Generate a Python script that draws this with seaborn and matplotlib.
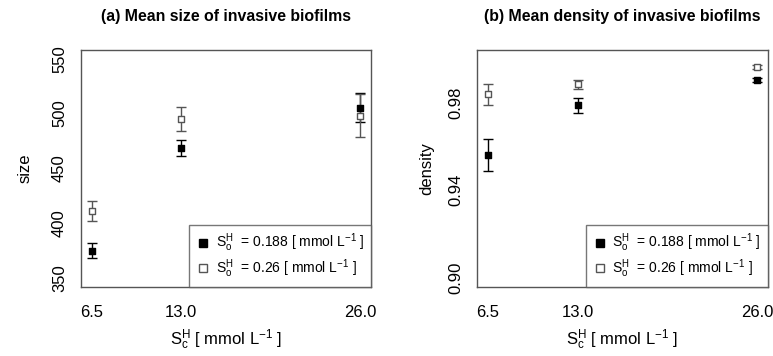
import pandas as pd
import seaborn as sns
import matplotlib.pyplot as plt
from matplotlib.lines import Line2D

sns.set_style('white')
plt.rcParams['font.family'] = ['Liberation Sans', 'DejaVu Sans']
plt.rcParams['mathtext.fontset'] = 'custom'
plt.rcParams['mathtext.rm'] = 'Liberation Sans'
plt.rcParams['mathtext.it'] = 'Liberation Sans'
plt.rcParams['text.color'] = 'black'
plt.rcParams['axes.labelcolor'] = 'black'
plt.rcParams['xtick.color'] = 'black'
plt.rcParams['ytick.color'] = 'black'

# data
sc = [6.5, 13.0, 26.0]
so_labels = ['0.188', '0.26']

size_188 = [375, 468.5, 505.5]
size_188_err = [7, 7.5, 13]
size_026 = [411, 494.8, 498]
size_026_err = [9.5, 11, 19.5]

dens_188 = [0.9562, 0.9788, 0.9902]
dens_188_err = [0.0073, 0.0035, 0.0008]
dens_026 = [0.9838, 0.9883, 0.9963]
dens_026_err = [0.0047, 0.0022, 0.0008]

df = pd.DataFrame({
    'sc': sc * 4,
    'value': size_188 + size_026 + dens_188 + dens_026,
    'err': size_188_err + size_026_err + dens_188_err + dens_026_err,
    'so': ([so_labels[0]] * 3 + [so_labels[1]] * 3) * 2,
    'measure': ['size'] * 6 + ['density'] * 6,
})

fig = plt.figure(figsize=(7.73, 3.56), dpi=100)
ax1 = fig.add_axes([0.1048, 0.1947, 0.3752, 0.6649])
ax2 = fig.add_axes([0.6175, 0.1947, 0.3757, 0.6649])

grey = '#555555'
styles = {
    '0.188': dict(fc='black', ec='black', ecolor='black'),
    '0.26': dict(fc='white', ec=grey, ecolor=grey),
}

panels = [
    (ax1, 'size', '(a) Mean size of invasive biofilms', (342, 558), [350, 400, 450, 500, 550], ['350', '400', '450', '500', '550'], 14),
    (ax2, 'density', '(b) Mean density of invasive biofilms', (0.896, 1.004),
     [0.90, 0.92, 0.94, 0.96, 0.98, 1.00], ['0.90', '', '0.94', '', '0.98', ''], 10),
]

for ax, meas, title, ylim, yt, ytl, lpad in panels:
    sub = df[df['measure'] == meas]
    for so in so_labels:
        d = sub[sub['so'] == so]
        st = styles[so]
        ax.errorbar(d['sc'], d['value'], yerr=d['err'], fmt='none', ecolor=st['ecolor'],
                    elinewidth=1, capsize=3.4, capthick=1, zorder=2)
        sns.scatterplot(x='sc', y='value', data=d, ax=ax, marker='s', s=22,
                        facecolor=st['fc'], edgecolor=st['ec'], linewidth=1, zorder=3)
    ax.set_xlim(5.72, 26.78)
    ax.set_ylim(*ylim)
    ax.set_xticks(sc)
    ax.set_xticklabels(['6.5', '13.0', '26.0'], fontsize=12)
    ax.set_yticks(yt)
    ax.set_yticklabels(ytl, fontsize=12, rotation=90, va='center')
    ax.tick_params(axis='both', direction='out', length=7, width=1, color=grey, pad=6)
    ax.tick_params(axis='y', pad=3)
    for sp in ax.spines.values():
        sp.set_color(grey)
        sp.set_linewidth(1)
    ax.set_title(title, fontsize=11.4, fontweight='bold', pad=21)
    ax.set_xlabel(r'$\mathregular{S_c^H}$ [ mmol L$^{-1}$ ]', fontsize=12, labelpad=6)
    ax.set_ylabel(meas, fontsize=12, labelpad=lpad)

    handles = [
        Line2D([], [], marker='s', ls='none', mfc='black', mec='black', ms=5.5),
        Line2D([], [], marker='s', ls='none', mfc='white', mec=grey, ms=5.5),
    ]
    labels = [r'$\mathregular{S_o^H}$  = 0.188 [ mmol L$^{-1}$ ]',
              r'$\mathregular{S_o^H}$  = 0.26 [ mmol L$^{-1}$ ]']
    leg = ax.legend(handles, labels, loc='lower right', fontsize=10, frameon=True,
                    fancybox=False, borderaxespad=0, handletextpad=0.4,
                    handlelength=1.0, borderpad=0.5, labelspacing=0.2)
    leg.get_frame().set_edgecolor(grey)
    leg.get_frame().set_linewidth(1)

fig.savefig('out.png', dpi=100)
